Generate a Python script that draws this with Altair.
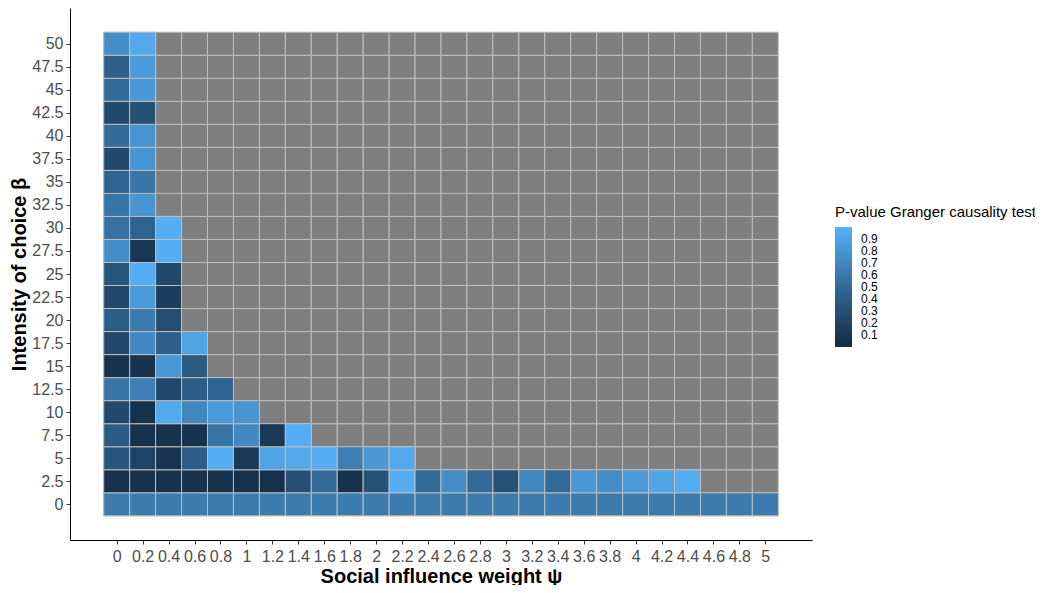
import altair as alt
import pandas as pd

# Axis categories
x_vals = [0, 0.2, 0.4, 0.6, 0.8, 1, 1.2, 1.4, 1.6, 1.8, 2, 2.2, 2.4, 2.6, 2.8,
          3, 3.2, 3.4, 3.6, 3.8, 4, 4.2, 4.4, 4.6, 4.8, 5]
y_vals = [0, 2.5, 5, 7.5, 10, 12.5, 15, 17.5, 20, 22.5, 25, 27.5, 30, 32.5,
          35, 37.5, 40, 42.5, 45, 47.5, 50]

# P-values per row (beta), listed from psi = 0 upward; missing cells are NA (grey)
p_0 = [0.62, 0.62, 0.62, 0.62, 0.62, 0.62, 0.62, 0.62, 0.62, 0.62, 0.62, 0.62, 0.62,
       0.62, 0.62, 0.62, 0.62, 0.62, 0.62, 0.62, 0.62, 0.62, 0.62, 0.62, 0.62, 0.62]
p_2_5 = [0.05, 0.06, 0.06, 0.06, 0.04, 0.05, 0.05, 0.3, 0.5, 0.06, 0.32, 0.98, 0.5,
         0.75, 0.5, 0.32, 0.7, 0.5, 0.82, 0.75, 0.85, 0.92, 0.97]
p_5 = [0.35, 0.2, 0.08, 0.4, 0.98, 0.12, 0.92, 0.95, 0.98, 0.65, 0.82, 0.94]
p_7_5 = [0.38, 0.06, 0.06, 0.06, 0.58, 0.72, 0.12, 0.98]
p_10 = [0.25, 0.05, 0.95, 0.7, 0.85, 0.8]
p_12_5 = [0.58, 0.65, 0.25, 0.4, 0.45]
p_15 = [0.07, 0.07, 0.82, 0.38]
p_17_5 = [0.25, 0.72, 0.42, 0.92]
p_20 = [0.4, 0.62, 0.28]
p_22_5 = [0.25, 0.85, 0.15]
p_25 = [0.35, 0.98, 0.25]
p_27_5 = [0.75, 0.1, 0.98]
p_30 = [0.55, 0.45, 0.98]
p_32_5 = [0.58, 0.8]
p_35 = [0.45, 0.58]
p_37_5 = [0.25, 0.8]
p_40 = [0.52, 0.8]
p_42_5 = [0.25, 0.3]
p_45 = [0.5, 0.82]
p_47_5 = [0.42, 0.85]
p_50 = [0.75, 0.95]

rows = [p_0, p_2_5, p_5, p_7_5, p_10, p_12_5, p_15, p_17_5, p_20, p_22_5, p_25,
        p_27_5, p_30, p_32_5, p_35, p_37_5, p_40, p_42_5, p_45, p_47_5, p_50]

legend_ticks = [0.1, 0.2, 0.3, 0.4, 0.5, 0.6, 0.7, 0.8, 0.9]
color_domain = [0, 1]

records = []
for yv, row in zip(y_vals, rows):
    for i, xv in enumerate(x_vals):
        val = row[i] if i < len(row) else None
        records.append({"psi": xv, "beta": yv, "p": val})
df = pd.DataFrame(records)

FONT = "Liberation Sans"

x_scale = alt.Scale(domain=[-0.36, 5.36], nice=False, zero=False)
y_scale = alt.Scale(domain=[-3.875, 53.875], nice=False, zero=False)

x_axis = alt.Axis(values=x_vals, format=".1~f", labelOverlap=False, grid=False,
                  title="Social influence weight ψ", labelFontSize=16,
                  labelColor="#4D4D4D", tickColor="#333333", tickSize=4,
                  labelPadding=4, domainColor="black", titleFontSize=20,
                  titleFontWeight="bold", titleColor="black", titlePadding=2,
                  labelFont=FONT, titleFont=FONT)
y_axis = alt.Axis(values=y_vals, format=".1~f", labelOverlap=False, grid=False,
                  title="Intensity of choice β", labelFontSize=16,
                  labelColor="#4D4D4D", tickColor="#333333", tickSize=4,
                  labelPadding=3, domainColor="black", titleFontSize=20,
                  titleFontWeight="bold", titleColor="black", titlePadding=2,
                  labelFont=FONT, titleFont=FONT)

base = alt.Chart(df).transform_calculate(
    x0="datum.psi - 0.1", x1="datum.psi + 0.1",
    y0="datum.beta - 1.25", y1="datum.beta + 1.25")

grey = base.mark_rect(fill="#7F7F7F", stroke="#BEBEBE", strokeWidth=1).encode(
    x=alt.X("x0:Q", scale=x_scale, axis=x_axis),
    x2="x1:Q",
    y=alt.Y("y0:Q", scale=y_scale, axis=y_axis),
    y2="y1:Q",
)

colored = base.transform_filter("datum.p != null").mark_rect(
    stroke="#BEBEBE", strokeWidth=1).encode(
    x=alt.X("x0:Q", scale=x_scale, axis=x_axis),
    x2="x1:Q",
    y=alt.Y("y0:Q", scale=y_scale, axis=y_axis),
    y2="y1:Q",
    color=alt.Color("p:Q",
                    scale=alt.Scale(domain=color_domain,
                                    range=["#132B43", "#56B1F7"], interpolate="lab",
                                    zero=False, nice=False),
                    legend=alt.Legend(title="P-value Granger causality test",
                                      orient="none", legendX=765, legendY=197,
                                      values=legend_ticks, format=".1f",
                                      gradientLength=120, gradientThickness=17,
                                      titleFontSize=15, titleFontWeight="normal",
                                      titleLimit=400,
                                      titleFont=FONT, labelFont=FONT,
                                      labelFontSize=12, labelColor="black",
                                      titleColor="black", titlePadding=7,
                                      labelOffset=9, labelOverlap=False,
                                      gradientStrokeWidth=0, direction="vertical")),
)

chart = alt.layer(grey, colored).properties(
    width=742, height=532,
    autosize=alt.AutoSizeParams(type="none"),
    padding={"left": 62, "top": 0, "right": 223, "bottom": 45},
).configure(background="white", view=alt.ViewConfig(stroke=None))

chart.save("out.html", embed_options={"renderer": "svg", "actions": False})
